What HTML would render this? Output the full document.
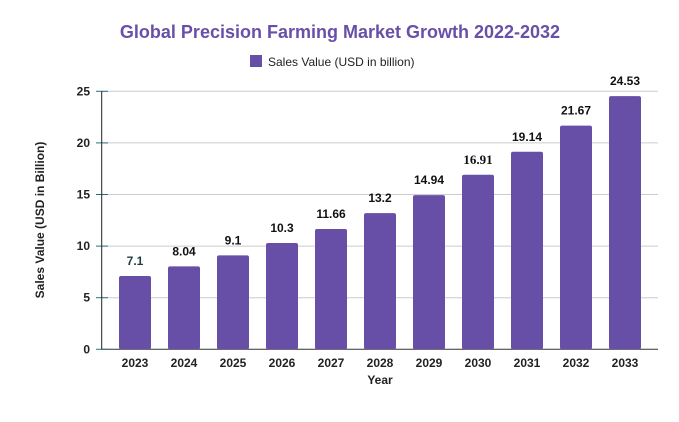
<!DOCTYPE html>
<html><head><meta charset="utf-8"><style>
body{margin:0;background:#fff;width:679px;height:417px;overflow:hidden}
text{font-family:"Liberation Sans",sans-serif}
</style></head><body>
<svg id="chart" width="679" height="417" xmlns="http://www.w3.org/2000/svg">
<text x="340" y="38" text-anchor="middle" font-size="18" font-weight="bold" fill="#6a4fa8">Global Precision Farming Market Growth 2022-2032</text>
<g>
<rect x="250" y="55" width="12" height="12" fill="#674ea7"/>
<text x="268" y="66" font-size="12" fill="#222">Sales Value (USD in billion)</text>
</g>
<text transform="translate(44,220) rotate(-90)" text-anchor="middle" font-size="12" font-weight="bold" fill="#222">Sales Value (USD in Billion)</text>
<text x="380" y="384" text-anchor="middle" font-size="12" font-weight="bold" fill="#222">Year</text>
<g id="grid"></g><g id="bars"></g>
</svg>
<script>
const categories=["2023","2024","2025","2026","2027","2028","2029","2030","2031","2032","2033"];
const values=[7.1,8.04,9.1,10.3,11.66,13.2,14.94,16.91,19.14,21.67,24.53];
const labels=["7.1","8.04","9.1","10.3","11.66","13.2","14.94","16.91","19.14","21.67","24.53"];
const serif=[false,false,false,false,false,false,false,true,false,false,false];
const yTicks=[0,5,10,15,20,25];
const NS="http://www.w3.org/2000/svg";
const y0=349.3,y1=91.3,yMax=25;
const y=v=>y0-(v/yMax)*(y0-y1);
const x=i=>135+i*49;
const grid=document.getElementById('grid'),bars=document.getElementById('bars');
function mk(t,a,p){const e=document.createElementNS(NS,t);for(const k in a)e.setAttribute(k,a[k]);p.appendChild(e);return e;}
yTicks.forEach(t=>{
 const l=mk('line',{x1:102,x2:658,y1:y(t),y2:y(t),stroke:t===0?'#333':'#ccc','stroke-width':1},grid);
 
 
 mk('line',{x1:96,x2:108,y1:y(t),y2:y(t),stroke:'#2a6f80','stroke-width':1},grid);
 const tx=mk('text',{x:90,y:y(t)+4,'text-anchor':'end','font-size':12,'font-weight':'bold',fill:'#222'},grid);
 tx.textContent=t;
 
 
});
mk('line',{x1:101.7,x2:101.7,y1:y1,y2:y0,stroke:'#222','stroke-width':1},grid);
categories.forEach((c,i)=>{
 const cx=x(i);
 const r=mk('rect',{x:cx-16,y:y(values[i]),width:32,height:y0-y(values[i]),rx:2,fill:'#674ea7'},bars);
 
 
 const lb=mk('text',{x:cx,y:y(values[i])-11,'text-anchor':'middle','font-size':serif[i]?13:12,'font-weight':'bold',fill:i===0?'#1f3a40':'#111'},bars);
 if(serif[i])lb.setAttribute('style','font-family:"Liberation Serif",serif');
 lb.textContent=labels[i];
 
 
 const xt=mk('text',{x:cx,y:367,'text-anchor':'middle','font-size':12,'font-weight':'bold',fill:'#222'},bars);
 xt.textContent=c;
 
 
});
</script>
</body></html>
